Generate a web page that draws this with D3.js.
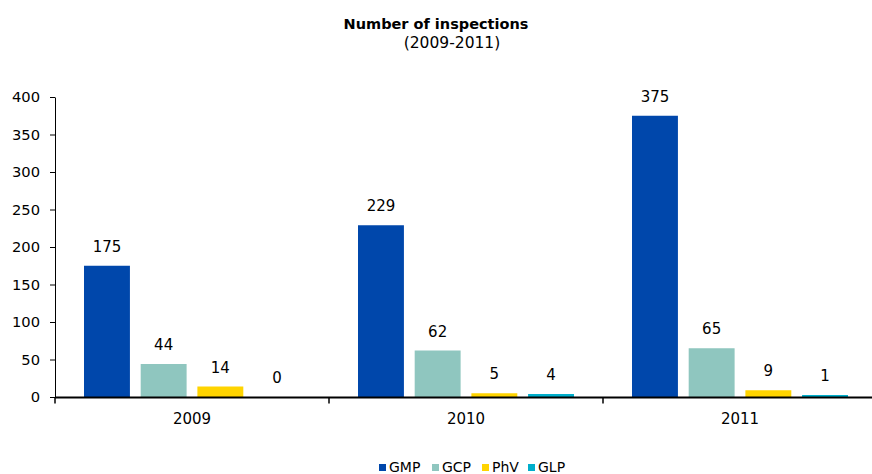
<!DOCTYPE html>
<html><head><meta charset="utf-8">
<script src="https://cdn.jsdelivr.net/npm/d3@7"></script>
<style>body{margin:0;background:#fff}svg{display:block;font-family:"DejaVu Sans",Verdana,sans-serif}</style>
</head><body>
<svg id="c" width="872" height="474"></svg>
<script>
const categories = ["2009","2010","2011"];
const seriesNames = ["GMP","GCP","PhV","GLP"];
const GMP = [175,229,375];
const GCP = [44,62,65];
const PhV = [14,5,9];
const GLP = [0,4,1];
const yTicks = [0,50,100,150,200,250,300,350,400];
const colors = ["#0047AB","#8FC6BF","#FFD400","#00AECB"];
const values = [GMP,GCP,PhV,GLP];

const svg = d3.select("#c");
const x0 = d3.scaleBand().domain(categories).range([55, 877]).paddingInner(0).paddingOuter(0);
const bw = x0.bandwidth();
const x1 = d3.scaleBand().domain(seriesNames).range([29, bw-29]).paddingInner(0.19).paddingOuter(0);
const y = d3.scaleLinear().domain([0,400]).range([397,97]);

// title
svg.append("text").attr("x",436).attr("y",29).attr("text-anchor","middle")
  .attr("font-weight","bold").attr("font-size",14.5).text("Number of inspections");
svg.append("text").attr("x",452).attr("y",48).attr("text-anchor","middle")
  .attr("font-size",15.5).text("(2009-2011)");

// bars
categories.forEach((c,i)=>{
  seriesNames.forEach((s,j)=>{
    const v = values[j][i];
    const bx = x0(c)+x1(s);
    const h = Math.max(y(0)-y(v), v>0?2:0);
    if (v>0) svg.append("rect").attr("x",bx).attr("y",y(0)-h).attr("width",x1.bandwidth())
      .attr("height",h).attr("fill",colors[j]);
    svg.append("text").attr("x",bx+x1.bandwidth()/2).attr("y",y(0)-h-14)
      .attr("text-anchor","middle").attr("font-size",15).attr("fill","#000").text(v);
  });
});

// y axis
const ya = svg.append("g").attr("transform","translate(55,0)")
  .call(d3.axisLeft(y).tickValues(yTicks).tickSize(5).tickPadding(10).tickSizeOuter(0));
ya.selectAll("text").attr("font-size",14.7).attr("fill","#000").attr("font-family","DejaVu Sans, Verdana, sans-serif");
ya.selectAll("line,path").attr("stroke","#000");

// x axis
const xa = svg.append("g").attr("transform","translate(0,397.5)");
xa.append("line").attr("x1",55).attr("x2",877).attr("stroke","#000").attr("stroke-width",2);
[...categories.map(c=>x0(c)), 877].forEach(t=>{
  xa.append("line").attr("x1",t).attr("x2",t).attr("y1",0).attr("y2",6).attr("stroke","#000").attr("stroke-width",1.5);
});
categories.forEach(c=>{
  xa.append("text").attr("x",x0(c)+bw/2).attr("y",26).attr("text-anchor","middle")
    .attr("font-size",15).text(c);
});

// legend
const legX = [379,432,482,528];
seriesNames.forEach((s,j)=>{
  svg.append("rect").attr("x",legX[j]).attr("y",464).attr("width",7).attr("height",7).attr("fill",colors[j]);
  svg.append("text").attr("x",legX[j]+10).attr("y",471.5).attr("font-size",14).text(s);
});
</script>
</body></html>
